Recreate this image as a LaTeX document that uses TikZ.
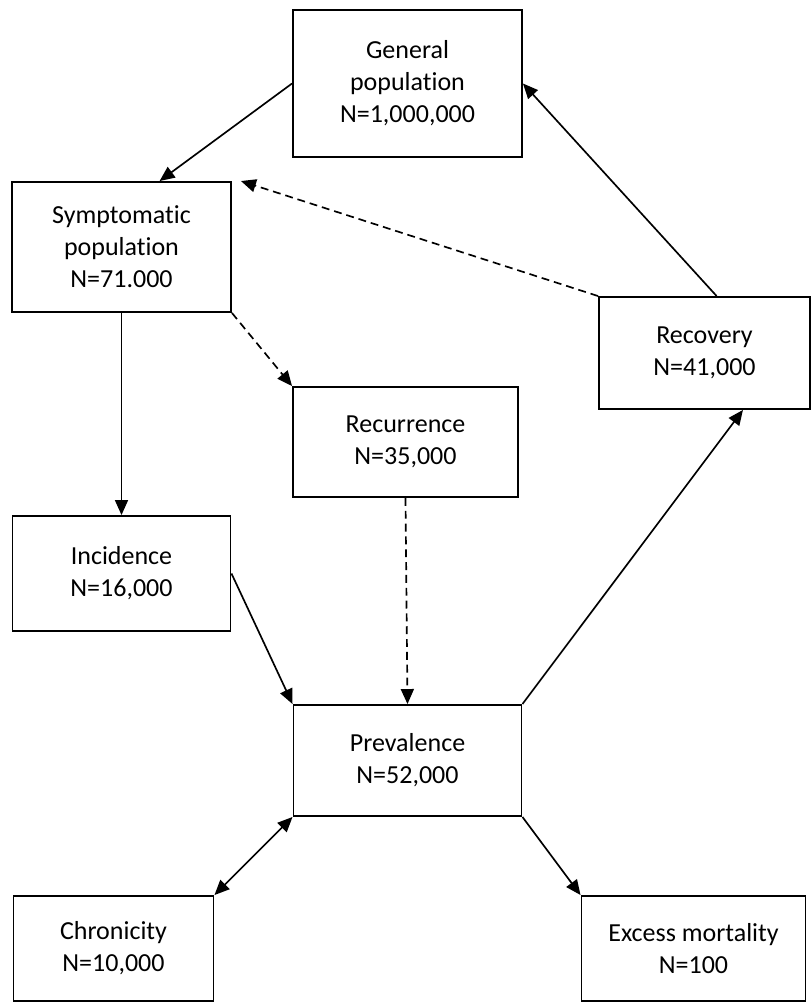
\documentclass[tikz,border=0pt]{standalone}
\usepackage{fontspec}
\setmainfont[Ligatures={NoCommon,NoContextual},Contextuals=NoAlternate]{Carlito}
\usepackage{tikz}
\usetikzlibrary{positioning, arrows.meta}
\tikzstyle{popbox} = [rectangle, text centered, align=center, draw=black, line width=1.1pt, inner sep=2pt]
\tikzstyle{arrow} = [line width=0.95pt,->,>={Stealth[length=3mm,width=2.6mm,inset=0pt]}]
\tikzstyle{dasharrow} = [arrow, dash pattern=on 4.5pt off 2.8pt]
\tikzstyle{every node}=[font=\fontsize{14.8}{18.2}\selectfont]

\begin{document}
\begin{tikzpicture}[node distance=2cm,]
		\useasboundingbox (0,0) rectangle (16.22,-20.06);
		\node (gen) [popbox, minimum width=4.58cm, minimum height=2.94cm] at (8.15,-1.67) {General\\population\\N=1,000,000};
		\node (symp) [popbox, below of=gen, xshift=-5.72cm, yshift=-1.27cm, minimum width=4.38cm, minimum height=2.6cm] {Symptomatic\\population\\N=71.000};
		\node (recov) [popbox, right of=gen, xshift=3.94cm, yshift=-5.39cm, minimum width=4.22cm, minimum height=2.24cm] {Recovery\\N=41,000};
		\node (recur) [popbox, below of=gen, xshift=-0.04cm, yshift=-5.17cm, minimum width=4.5cm, minimum height=2.2cm] {Recurrence\\N=35,000};
		\node (inc) [popbox, below of=symp, yshift=-4.53cm, minimum width=4.36cm, minimum height=2.3cm] {Incidence\\N=16,000};
		\node (prev) [popbox, below of=gen, yshift=-11.54cm, minimum width=4.56cm, minimum height=2.22cm] {Prevalence\\N=52,000};
		\node (chron) [popbox, below of=inc, xshift=-0.16cm, yshift=-5.5cm, minimum width=4cm, minimum height=2.1cm] {Chronicity\\N=10,000};
		\node (exc) [popbox, below of=prev, xshift=5.72cm, yshift=-1.76cm, minimum width=4.48cm, minimum height=2.1cm] {Excess mortality\\N=100};
		\draw [arrow](gen.west) -- (symp.60);
		\draw [arrow](recov.78) -- (gen.east);
		\draw [dasharrow](recov.north west) -- ([xshift=0.18cm]symp.north east);
		\draw [dasharrow](symp.south east) -- (recur.north west);
		\draw [arrow](symp.south) -- (inc.north);
		\draw [dasharrow](recur.south) -- (prev.north);
		\draw [arrow](inc.east) -- (prev.north west);
		\draw [arrow](prev.north east) -- (recov.-56);
		\draw [arrow,<->](prev.south west) -- (chron.north east);
		\draw [arrow](prev.south east) -- (exc.north west);
	\end{tikzpicture}
\end{document}
